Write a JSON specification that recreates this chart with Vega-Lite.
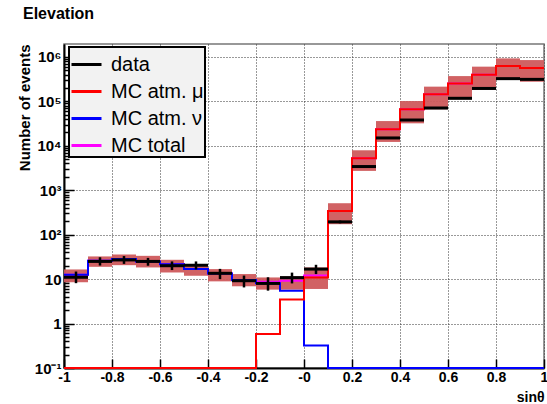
{
  "$schema": "https://vega.github.io/schema/vega-lite/v6.json",
  "width": 480,
  "height": 324,
  "autosize": {"type": "none"},
  "padding": {"left": 64, "top": 44, "right": 3, "bottom": 36},
  "background": "white",
  "title": {"text": "Elevation", "anchor": "start", "frame": "group", "dx": -41, "offset": 22, "fontSize": 16, "fontWeight": "bold", "font": "Liberation Sans", "color": "black"},
  "config": {
    "view": {"stroke": "#777", "strokeWidth": 1.5},
    "font": "Liberation Sans",
    "axis": {
      "domainColor": "black", "domainWidth": 2,
      "tickColor": "black", "tickWidth": 1.5,
      "labelFont": "Liberation Sans", "labelFontWeight": "bold", "labelFontSize": 14, "labelColor": "black",
      "titleFont": "Liberation Sans", "titleFontWeight": "bold", "titleFontSize": 14, "titleColor": "black",
      "gridColor": "#333", "gridDash": [1, 2], "gridWidth": 1,
      "labelOverlap": false, "labelFlush": false
    }
  },
  "datasets": {
    "bins": [
      {"lo": -1, "hi": -0.9, "c": -0.95, "d": 11, "elo": 8.1, "ehi": 14.8, "blo": 8.5, "bhi": 16.5},
      {"lo": -0.9, "hi": -0.8, "c": -0.85, "d": 25, "elo": 20.2, "ehi": 31, "blo": 18.9, "bhi": 32.4},
      {"lo": -0.8, "hi": -0.7, "c": -0.75, "d": 27, "elo": 22, "ehi": 33, "blo": 20.6, "bhi": 35.8},
      {"lo": -0.7, "hi": -0.6, "c": -0.65, "d": 25, "elo": 20, "ehi": 30, "blo": 18.3, "bhi": 33.4},
      {"lo": -0.6, "hi": -0.5, "c": -0.55, "d": 20, "elo": 16, "ehi": 25, "blo": 14.1, "bhi": 27.2},
      {"lo": -0.5, "hi": -0.4, "c": -0.45, "d": 20.5, "elo": 16.5, "ehi": 25, "blo": 11.9, "bhi": 21},
      {"lo": -0.4, "hi": -0.3, "c": -0.35, "d": 13.5, "elo": 10, "ehi": 17, "blo": 8.9, "bhi": 16.8},
      {"lo": -0.3, "hi": -0.2, "c": -0.25, "d": 9.2, "elo": 6.5, "ehi": 12, "blo": 6.9, "bhi": 13},
      {"lo": -0.2, "hi": -0.1, "c": -0.15, "d": 8, "elo": 5.5, "ehi": 11, "blo": 5.8, "bhi": 10.9},
      {"lo": -0.1, "hi": 0, "c": -0.05, "d": 10.8, "elo": 8, "ehi": 14, "blo": 5.8, "bhi": 11.5},
      {"lo": 0, "hi": 0.1, "c": 0.05, "d": 16.8, "elo": 13, "ehi": 21, "blo": 6, "bhi": 18.3},
      {"lo": 0.1, "hi": 0.2, "c": 0.15, "d": 194, "elo": 180, "ehi": 208, "blo": 172, "bhi": 510},
      {"lo": 0.2, "hi": 0.3, "c": 0.25, "d": 3410, "elo": 3350, "ehi": 3470, "blo": 2720, "bhi": 7920},
      {"lo": 0.3, "hi": 0.4, "c": 0.35, "d": 15000, "elo": 14880, "ehi": 15120, "blo": 12200, "bhi": 36000},
      {"lo": 0.4, "hi": 0.5, "c": 0.45, "d": 38000, "elo": 37800, "ehi": 38200, "blo": 32000, "bhi": 101600},
      {"lo": 0.5, "hi": 0.6, "c": 0.55, "d": 70800, "elo": 70530, "ehi": 71070, "blo": 66000, "bhi": 214000},
      {"lo": 0.6, "hi": 0.7, "c": 0.65, "d": 117000, "elo": 116660, "ehi": 117340, "blo": 111000, "bhi": 370000},
      {"lo": 0.7, "hi": 0.8, "c": 0.75, "d": 195000, "elo": 194560, "ehi": 195440, "blo": 180000, "bhi": 603000},
      {"lo": 0.8, "hi": 0.9, "c": 0.85, "d": 324000, "elo": 323430, "ehi": 324570, "blo": 302000, "bhi": 925000},
      {"lo": 0.9, "hi": 1, "c": 0.95, "d": 312000, "elo": 311440, "ehi": 312560, "blo": 276000, "bhi": 848000}
    ],
    "steps": [
      {"s": "MC total", "x": -1, "v": 12.5}, {"s": "MC total", "x": -0.9, "v": 25.8}, {"s": "MC total", "x": -0.8, "v": 28.5},
      {"s": "MC total", "x": -0.7, "v": 25}, {"s": "MC total", "x": -0.6, "v": 21.5}, {"s": "MC total", "x": -0.5, "v": 16.8},
      {"s": "MC total", "x": -0.4, "v": 13.4}, {"s": "MC total", "x": -0.3, "v": 9.5}, {"s": "MC total", "x": -0.2, "v": 8.7},
      {"s": "MC total", "x": -0.1, "v": 9.2}, {"s": "MC total", "x": 0, "v": 12}, {"s": "MC total", "x": 0.1, "v": 343},
      {"s": "MC total", "x": 0.2, "v": 5240}, {"s": "MC total", "x": 0.3, "v": 23500}, {"s": "MC total", "x": 0.4, "v": 66100},
      {"s": "MC total", "x": 0.5, "v": 143600}, {"s": "MC total", "x": 0.6, "v": 253000}, {"s": "MC total", "x": 0.7, "v": 397000},
      {"s": "MC total", "x": 0.8, "v": 620000}, {"s": "MC total", "x": 0.9, "v": 560000}, {"s": "MC total", "x": 1, "v": 560000},
      {"s": "MC atm. ν", "x": -1, "v": 12.5}, {"s": "MC atm. ν", "x": -0.9, "v": 25.8}, {"s": "MC atm. ν", "x": -0.8, "v": 28.5},
      {"s": "MC atm. ν", "x": -0.7, "v": 25}, {"s": "MC atm. ν", "x": -0.6, "v": 21.5}, {"s": "MC atm. ν", "x": -0.5, "v": 16.8},
      {"s": "MC atm. ν", "x": -0.4, "v": 13.4}, {"s": "MC atm. ν", "x": -0.3, "v": 9.5}, {"s": "MC atm. ν", "x": -0.2, "v": 8.1},
      {"s": "MC atm. ν", "x": -0.1, "v": 5.5}, {"s": "MC atm. ν", "x": 0, "v": 0.32}, {"s": "MC atm. ν", "x": 0.1, "v": 0.1},
      {"s": "MC atm. ν", "x": 0.2, "v": 0.1}, {"s": "MC atm. ν", "x": 0.3, "v": 0.1}, {"s": "MC atm. ν", "x": 0.4, "v": 0.1},
      {"s": "MC atm. ν", "x": 0.5, "v": 0.1}, {"s": "MC atm. ν", "x": 0.6, "v": 0.1}, {"s": "MC atm. ν", "x": 0.7, "v": 0.1},
      {"s": "MC atm. ν", "x": 0.8, "v": 0.1}, {"s": "MC atm. ν", "x": 0.9, "v": 0.1}, {"s": "MC atm. ν", "x": 1, "v": 0.1},
      {"s": "MC atm. μ", "x": -1, "v": 0.1}, {"s": "MC atm. μ", "x": -0.9, "v": 0.1}, {"s": "MC atm. μ", "x": -0.8, "v": 0.1},
      {"s": "MC atm. μ", "x": -0.7, "v": 0.1}, {"s": "MC atm. μ", "x": -0.6, "v": 0.1}, {"s": "MC atm. μ", "x": -0.5, "v": 0.1},
      {"s": "MC atm. μ", "x": -0.4, "v": 0.1}, {"s": "MC atm. μ", "x": -0.3, "v": 0.1}, {"s": "MC atm. μ", "x": -0.2, "v": 0.58},
      {"s": "MC atm. μ", "x": -0.1, "v": 3.5}, {"s": "MC atm. μ", "x": 0, "v": 10.9}, {"s": "MC atm. μ", "x": 0.1, "v": 343},
      {"s": "MC atm. μ", "x": 0.2, "v": 5240}, {"s": "MC atm. μ", "x": 0.3, "v": 23500}, {"s": "MC atm. μ", "x": 0.4, "v": 66100},
      {"s": "MC atm. μ", "x": 0.5, "v": 143600}, {"s": "MC atm. μ", "x": 0.6, "v": 253000}, {"s": "MC atm. μ", "x": 0.7, "v": 397000},
      {"s": "MC atm. μ", "x": 0.8, "v": 620000}, {"s": "MC atm. μ", "x": 0.9, "v": 560000}, {"s": "MC atm. μ", "x": 1, "v": 560000}
    ]
  },
  "layer": [
    {
      "data": {"name": "bins"},
      "mark": {"type": "rect", "color": "#cf5a5c", "opacity": 0.95},
      "encoding": {
        "x": {"field": "lo", "type": "quantitative",
          "scale": {"domain": [-1, 1], "nice": false, "zero": false},
          "axis": {
            "title": "sinθ", "titleAnchor": "end", "titlePadding": 6,
            "values": [-1, -0.95, -0.9, -0.85, -0.8, -0.75, -0.7, -0.65, -0.6, -0.55, -0.5, -0.45, -0.4, -0.35, -0.3, -0.25, -0.2, -0.15, -0.1, -0.05, 0, 0.05, 0.1, 0.15, 0.2, 0.25, 0.3, 0.35, 0.4, 0.45, 0.5, 0.55, 0.6, 0.65, 0.7, 0.75, 0.8, 0.85, 0.9, 0.95, 1],
            "labelExpr": "abs(datum.value*5 - round(datum.value*5)) > 0.001 ? '' : (abs(datum.value) < 0.001 ? '-0' : toString(round(datum.value*10)/10))",
            "tickSize": {"condition": {"test": "abs(datum.value*5 - round(datum.value*5)) < 0.001", "value": -9}, "value": -4.5},
            "gridOpacity": {"condition": {"test": "abs(datum.value*5 - round(datum.value*5)) < 0.001", "value": 1}, "value": 0},
            "labelPadding": 11
          }
        },
        "x2": {"field": "hi"},
        "y": {"field": "blo", "type": "quantitative",
          "scale": {"type": "log", "domain": [0.1, 1950000], "nice": false},
          "axis": {
            "title": "Number of events", "titleAnchor": "end", "titlePadding": 2, "titleFontSize": 15,
            "values": [0.1, 0.2, 0.3, 0.4, 0.5, 0.6, 0.7, 0.8, 0.9, 1, 2, 3, 4, 5, 6, 7, 8, 9, 10, 20, 30, 40, 50, 60, 70, 80, 90, 100, 200, 300, 400, 500, 600, 700, 800, 900, 1000, 2000, 3000, 4000, 5000, 6000, 7000, 8000, 9000, 10000, 20000, 30000, 40000, 50000, 60000, 70000, 80000, 90000, 100000, 200000, 300000, 400000, 500000, 600000, 700000, 800000, 900000, 1000000],
            "labelExpr": "abs(log(datum.value)/LN10 - round(log(datum.value)/LN10)) > 0.01 ? '' : datum.value < 0.5 ? '10⁻¹' : datum.value < 5 ? '1' : datum.value < 50 ? '10' : datum.value < 500 ? '10²' : datum.value < 5000 ? '10³' : datum.value < 50000 ? '10⁴' : datum.value < 500000 ? '10⁵' : '10⁶'",
            "tickSize": {"condition": {"test": "abs(log(datum.value)/LN10 - round(log(datum.value)/LN10)) < 0.01", "value": -10}, "value": -5},
            "gridOpacity": {"condition": {"test": "abs(log(datum.value)/LN10 - round(log(datum.value)/LN10)) < 0.01", "value": 1}, "value": 0},
            "labelPadding": 13,
            "labelFontSize": 15
          }
        },
        "y2": {"field": "bhi"}
      }
    },
    {
      "data": {"name": "steps"},
      "transform": [{"filter": "datum.s == 'MC total'"}],
      "mark": {"type": "line", "interpolate": "step-after", "strokeWidth": 2, "clip": false},
      "encoding": {
        "x": {"field": "x", "type": "quantitative"},
        "y": {"field": "v", "type": "quantitative"},
        "color": {"datum": "MC total", "type": "nominal",
          "scale": {"domain": ["data", "MC atm. μ", "MC atm. ν", "MC total"], "range": ["black", "#ff0000", "#0000ff", "#ff00ff"]},
          "legend": {"orient": "none", "legendX": 5, "legendY": 3, "title": null, "fillColor": "#f2f2f2", "strokeColor": "black", "padding": 1, "labelFontSize": 20, "labelFont": "Liberation Sans", "labelColor": "black", "symbolType": "stroke", "symbolSize": 900, "symbolStrokeWidth": 3, "rowPadding": -5.5, "labelOffset": 8,
            "encode": {"legend": {"update": {"strokeWidth": {"value": 2}}}}}
        }
      }
    },
    {
      "data": {"name": "steps"},
      "transform": [{"filter": "datum.s == 'MC atm. ν'"}],
      "mark": {"type": "line", "interpolate": "step-after", "strokeWidth": 2, "clip": false},
      "encoding": {
        "x": {"field": "x", "type": "quantitative"},
        "y": {"field": "v", "type": "quantitative"},
        "color": {"datum": "MC atm. ν", "type": "nominal"}
      }
    },
    {
      "data": {"name": "steps"},
      "transform": [{"filter": "datum.s == 'MC atm. μ'"}],
      "mark": {"type": "line", "interpolate": "step-after", "strokeWidth": 2, "clip": false},
      "encoding": {
        "x": {"field": "x", "type": "quantitative"},
        "y": {"field": "v", "type": "quantitative"},
        "color": {"datum": "MC atm. μ", "type": "nominal"}
      }
    },
    {
      "data": {"name": "bins"},
      "mark": {"type": "rule", "strokeWidth": 3},
      "encoding": {
        "x": {"field": "lo", "type": "quantitative"},
        "x2": {"field": "hi"},
        "y": {"field": "d", "type": "quantitative"},
        "color": {"datum": "data", "type": "nominal"}
      }
    },
    {
      "data": {"name": "bins"},
      "mark": {"type": "rule", "strokeWidth": 2.5},
      "encoding": {
        "x": {"field": "c", "type": "quantitative"},
        "y": {"field": "elo", "type": "quantitative"},
        "y2": {"field": "ehi"},
        "color": {"datum": "data", "type": "nominal"}
      }
    }
  ]
}
